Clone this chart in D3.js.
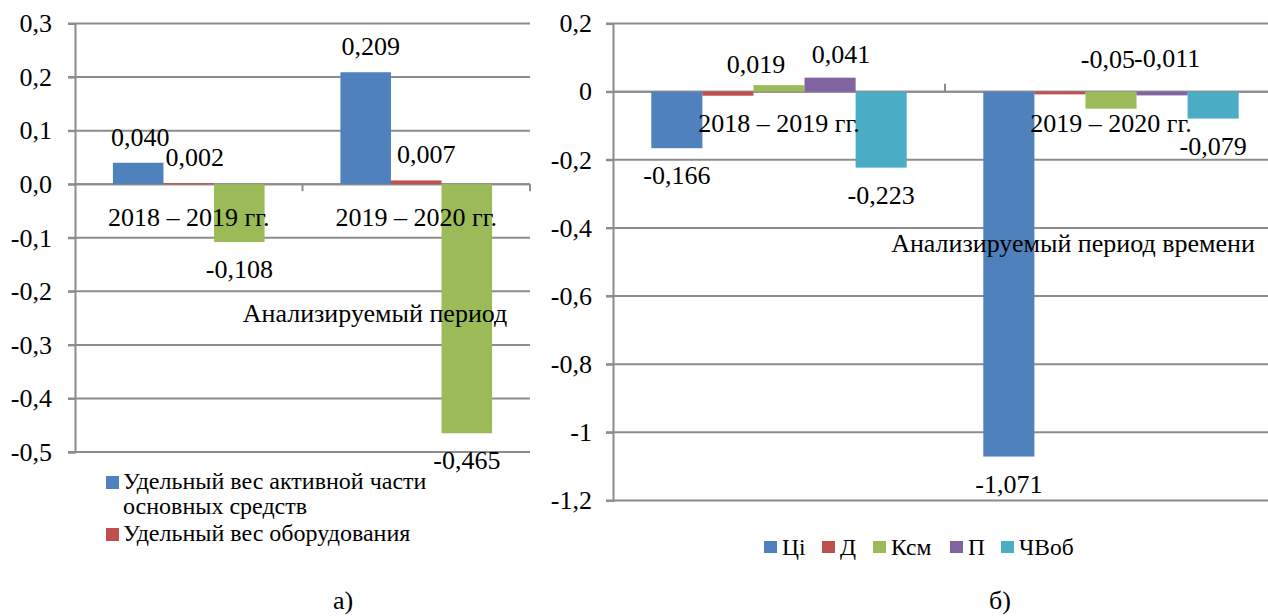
<!DOCTYPE html>
<html><head><meta charset="utf-8">
<script src="https://cdn.jsdelivr.net/npm/d3@7"></script>
<style>
body{margin:0;background:#fff}
svg, svg text{font-family:"Liberation Serif","Times New Roman",serif !important;fill:#000}
</style>
</head><body>
<svg id="c" width="1268" height="616"></svg>
<script>
// ---------- data ----------
const periods = ["2018 – 2019 гг.", "2019 – 2020 гг."];

// chart a)
const aSeries = ["Удельный вес активной части основных средств", "Удельный вес оборудования", "Третий показатель"];
const aActivePart = [0.040, 0.209];
const aEquipment = [0.002, 0.007];
const aThird = [-0.108, -0.465];
const aTicks = [0.3, 0.2, 0.1, 0.0, -0.1, -0.2, -0.3, -0.4, -0.5];
const aLegendLines = [["Удельный вес активной части", "основных средств"], ["Удельный вес оборудования"]];

// chart б)
const bSeries = ["Ці", "Д", "Ксм", "П", "ЧВоб"];
const bCi = [-0.166, -1.071];
const bD = [-0.012, -0.008];
const bKsm = [0.019, -0.05];
const bP = [0.041, -0.011];
const bChVob = [-0.223, -0.079];
const bTicks = [0.2, 0, -0.2, -0.4, -0.6, -0.8, -1, -1.2];

// ---------- styles ----------
const colors = ["#4F81BD", "#C0504D", "#9BBB59", "#8064A2", "#4BACC6"];
const gridColor = "#8c8c8c";
const FONT = "'Liberation Serif', 'Times New Roman', serif";
const loc = d3.formatLocale({decimal: ",", thousands: " ", grouping: [3], currency: ["", ""], minus: "-"});
const fmt3 = loc.format(".3f");
const fmtG = loc.format(".3~f");
const fmtA = loc.format(".1f");
const fmtB = loc.format(".1~f");

const svg = d3.select("#c").style("font-family", FONT);

function drawChart(cfg) {
  const g = svg.append("g");
  const x0 = d3.scaleBand().domain(periods).range([cfg.left, cfg.right]).paddingInner(0).paddingOuter(0);
  const x1 = d3.scaleBand().domain(cfg.series).range([0, x0.bandwidth()]).paddingInner(0).paddingOuter(0.75);
  const y = d3.scaleLinear().domain([cfg.ticks[cfg.ticks.length - 1], cfg.ticks[0]]).range([cfg.bottom, cfg.top]);
  const xr = Math.min(cfg.right, 1268);

  // gridlines
  g.append("g").selectAll("line").data(cfg.ticks).join("line")
    .attr("x1", cfg.left - 7).attr("x2", xr)
    .attr("y1", d => y(d)).attr("y2", d => y(d))
    .attr("stroke", gridColor).attr("stroke-width", 2);

  // y axis
  const ya = g.append("g").attr("transform", `translate(${cfg.left},0)`)
    .call(d3.axisLeft(y).tickValues(cfg.ticks).tickFormat(cfg.tickFmt).tickSize(7).tickPadding(cfg.tickPad));
  ya.attr("font-family", null).attr("font-size", null);
  ya.select(".domain").attr("stroke", gridColor).attr("stroke-width", 2);
  ya.selectAll(".tick line").attr("stroke", gridColor).attr("stroke-width", 2);
  ya.selectAll(".tick text").style("font-size", "26px").style("font-family", FONT).attr("fill", "#000");

  // category axis
  const y0 = y(0);
  g.append("line").attr("x1", cfg.left).attr("x2", xr).attr("y1", y0).attr("y2", y0)
    .attr("stroke", gridColor).attr("stroke-width", 2);
  const bounds = periods.slice(1).map(p => x0(p)).concat([cfg.right]);
  g.append("g").selectAll("line").data(bounds).join("line")
    .attr("x1", d => d).attr("x2", d => d)
    .attr("y1", y0).attr("y2", y0 + cfg.catTick)
    .attr("stroke", gridColor).attr("stroke-width", 2);

  // bars
  const bars = [];
  cfg.series.forEach((s, si) => cfg.values[si].forEach((v, pi) => bars.push({s, si, pi, v})));
  g.append("g").selectAll("rect").data(bars).join("rect")
    .attr("x", d => x0(periods[d.pi]) + x1(d.s))
    .attr("width", x1.bandwidth())
    .attr("y", d => y(Math.max(0, d.v)))
    .attr("height", d => Math.max(1, Math.abs(y(d.v) - y(0))))
    .attr("fill", d => colors[d.si]);

  // category labels
  g.append("g").selectAll("text").data(periods).join("text")
    .attr("x", d => x0(d) + x0.bandwidth() / 2)
    .attr("y", y0 + cfg.catLabelDy)
    .attr("text-anchor", "middle").style("font-size", "26px").text(d => d);

  // value labels
  const nud = d => cfg.nudge[d.si + "_" + d.pi] || [0, 0];
  g.append("g").selectAll("text").data(bars.filter(d => cfg.showLabel(d))).join("text")
    .attr("x", d => x0(periods[d.pi]) + x1(d.s) + x1.bandwidth() / 2 + nud(d)[0])
    .attr("y", d => y(d.v) + (d.v >= 0 ? -17 : 36) + nud(d)[1])
    .attr("text-anchor", d => nud(d)[2] || "middle").style("font-size", "26px")
    .text(d => cfg.valFmt(d.v));

  // axis title
  g.append("text").attr("x", cfg.titleX).attr("y", cfg.titleY)
    .attr("text-anchor", "middle").style("font-size", "26px").text(cfg.title);
  return {x0, x1, y};
}

// chart a)
drawChart({
  left: 75, right: 530, top: 23.5, bottom: 452,
  series: aSeries, values: [aActivePart, aEquipment, aThird],
  ticks: aTicks, tickFmt: fmtA, tickPad: 16,
  catTick: 7, catLabelDy: 42,
  showLabel: d => true, valFmt: fmt3,
  nudge: {"1_0": [6, 0], "0_1": [5, 0], "1_1": [10, 0], "0_0": [2, 0]},
  titleX: 375, titleY: 322, title: "Анализируемый  период"
});

// chart б)
drawChart({
  left: 613, right: 1277, top: 23.5, bottom: 500.5,
  series: bSeries, values: [bCi, bD, bKsm, bP, bChVob],
  ticks: bTicks, tickFmt: fmtB, tickPad: 14,
  catTick: -8, catLabelDy: 40,
  showLabel: d => d.si !== 1, valFmt: fmtG,
  nudge: {"2_0": [-23, 5], "3_0": [11, 2.5], "2_1": [24, -77, "end"], "3_1": [-28, -64, "start"]},
  titleX: 1073, titleY: 252, title: "Анализируемый период времени"
});

// legend a)
const legA = svg.append("g");
const legAY = [489, 541];
aLegendLines.forEach((lines, i) => {
  legA.append("rect").attr("x", 106).attr("y", legAY[i] - 13).attr("width", 13).attr("height", 13).attr("fill", colors[i]);
  const t = legA.append("text").attr("x", 123).attr("y", legAY[i]).style("font-size", "24px");
  lines.forEach((ln, j) => t.append("tspan").attr("x", 123).attr("dy", j === 0 ? 0 : 25).text(ln));
});

// legend б)
const legB = svg.append("g");
const legBX = [764, 822, 873, 950, 1001];
bSeries.forEach((s, i) => {
  legB.append("rect").attr("x", legBX[i]).attr("y", 541).attr("width", 13).attr("height", 12).attr("fill", colors[i]);
  legB.append("text").attr("x", legBX[i] + 18).attr("y", 555).style("font-size", "23.5px").text(s);
});

// panel captions
svg.append("text").attr("x", 343).attr("y", 609).attr("text-anchor", "middle").style("font-size", "26px").text("а)");
svg.append("text").attr("x", 1000).attr("y", 609).attr("text-anchor", "middle").style("font-size", "26px").text("б)");
</script>
</body></html>
